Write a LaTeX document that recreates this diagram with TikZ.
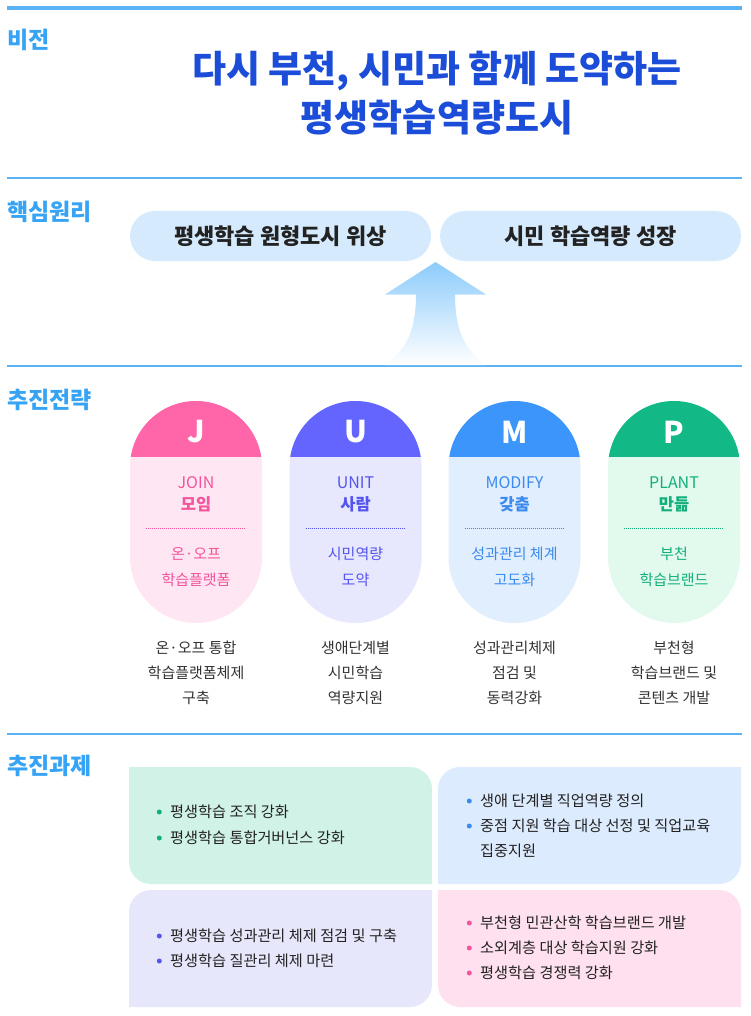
\documentclass[tikz,border=0pt]{standalone}
\usepackage{fontspec}
\setmainfont{Noto Sans CJK KR}
\usepackage{tikz}
\usetikzlibrary{positioning}

\definecolor{lineblue}{HTML}{5AB2F5}
\definecolor{labelblue}{HTML}{36A3F4}
\definecolor{titleblue}{HTML}{1B4DD8}
\definecolor{pillblue}{HTML}{D6EAFD}
\definecolor{arrowblue}{HTML}{8CCBFB}
\definecolor{darktext}{HTML}{222222}
\definecolor{desctext}{HTML}{333333}
\definecolor{jhead}{HTML}{FF66AA}
\definecolor{jbody}{HTML}{FFE6F2}
\definecolor{jtext}{HTML}{F2559C}
\definecolor{uhead}{HTML}{6464FF}
\definecolor{ubody}{HTML}{E7E7FE}
\definecolor{utext}{HTML}{5454EE}
\definecolor{mhead}{HTML}{3B95FB}
\definecolor{mbody}{HTML}{E1EEFE}
\definecolor{mtext}{HTML}{3A8AF0}
\definecolor{phead}{HTML}{12B886}
\definecolor{pbody}{HTML}{E2FAED}
\definecolor{ptext}{HTML}{12AF7C}
\definecolor{qmint}{HTML}{D0F2E7}
\definecolor{qblue}{HTML}{DDEBFE}
\definecolor{qviolet}{HTML}{E7E7FC}
\definecolor{qpink}{HTML}{FFE0EF}

\tikzstyle{topline} = [draw=lineblue, line width=3.5pt]
\tikzstyle{secline} = [draw=lineblue, line width=1.5pt]
\tikzstyle{seclabel} = [anchor=west, inner sep=0pt, text=labelblue, font=\fontsize{23}{23}\selectfont\bfseries]
\tikzstyle{title} = [align=center, inner sep=0pt, text=titleblue, font=\fontsize{37}{49}\selectfont\bfseries]
\tikzstyle{pill} = [rounded corners=25pt, minimum width=301pt, minimum height=50pt, fill=pillblue, text=darktext, font=\fontsize{22}{22}\selectfont\bfseries]
\tikzstyle{letter} = [inner sep=0pt, text=white, font=\fontsize{30}{30}\selectfont\bfseries]
\tikzstyle{eng} = [inner sep=0pt, font=\fontsize{16}{16}\selectfont]
\tikzstyle{kor} = [inner sep=0pt, font=\fontsize{16.5}{16.5}\selectfont\bfseries]
\tikzstyle{sub} = [inner sep=0pt, align=center, font=\fontsize{15}{26}\selectfont]
\tikzstyle{desc} = [inner sep=0pt, align=center, text=desctext, font=\fontsize{15}{25}\selectfont]
\tikzstyle{dots} = [line width=1pt, dash pattern=on 1pt off 1pt]
\tikzstyle{dotmark} = [circle, inner sep=0pt, minimum size=5pt, xshift=-8pt]
\tikzstyle{plainitem} = [anchor=west, inner sep=0pt, text=darktext, font=\fontsize{15.2}{17}\selectfont]
\tikzset{
  capsule/.style={rounded corners=66pt, minimum width=132pt, minimum height=222pt, inner sep=0pt, fill=#1body,
    path picture={\fill[#1head, sharp corners] (path picture bounding box.north west) rectangle ([yshift=-56pt]path picture bounding box.north east);}},
  item/.style={plainitem, label={[dotmark, fill=#1]left:{}}}
}

\begin{document}
\begin{tikzpicture}[x=1pt, y=-1pt]
\useasboundingbox (0,0) rectangle (750,1016);

% section rules and labels
\draw[topline] (7,8) -- (742,8);
\draw[secline] (7,178) -- (742,178);
\draw[secline] (7,366) -- (742,366);
\draw[secline] (7,734) -- (742,734);

\node[seclabel] (vision) at (7,40) {비전};
\node[seclabel] (core) at (7,212) {핵심원리};
\node[seclabel] (strategy) at (7,400) {추진전략};
\node[seclabel] (task) at (7,766) {추진과제};

% vision
\node[title] (slogan) at (437,93) {다시 부천, 시민과 함께 도약하는\\평생학습역량도시};

% core principles
\node[pill] (pill1) at (280.5,236) {평생학습 원형도시 위상};
\node[pill] (pill2) at (590.5,236) {시민 학습역량 성장};
\shade[top color=arrowblue, middle color=arrowblue!75!white, bottom color=white]
  (435.5,262) -- (486,294.5) -- (455,294.5) .. controls (455,335) and (468,352) .. (486,365)
  -- (385,365) .. controls (403,352) and (416,335) .. (416,294.5) -- (385,294.5) -- cycle;

% strategies
\node[capsule=j] (J) at (196,512) {};
\node[capsule=u] (U) at (355.5,512) {};
\node[capsule=m] (M) at (514.5,512) {};
\node[capsule=p] (P) at (674,512) {};

\node[letter] (J_l) at (196,432) {J};
\node[letter] (U_l) at (355.5,432) {U};
\node[letter] (M_l) at (514.5,432) {M};
\node[letter] (P_l) at (674,432) {P};

\node[eng, text=jtext] (J_e) at (196,482.5) {JOIN};
\node[eng, text=utext] (U_e) at (355.5,482.5) {UNIT};
\node[eng, text=mtext] (M_e) at (514.5,482.5) {MODIFY};
\node[eng, text=ptext] (P_e) at (674,482.5) {PLANT};

\node[kor, text=jtext] (J_k) at (196,504) {모임};
\node[kor, text=utext] (U_k) at (355.5,504) {사람};
\node[kor, text=mtext] (M_k) at (514.5,504) {갖춤};
\node[kor, text=ptext] (P_k) at (674,504) {만듦};

\draw[dots, jtext] (146,528) -- (246,528);
\draw[dots, utext] (305.5,528) -- (405.5,528);
\draw[dots, mtext] (464.5,528) -- (564.5,528);
\draw[dots, ptext] (624,528) -- (724,528);

\node[sub, text=jtext] (J_s) at (196,567) {온·오프\\학습플랫폼};
\node[sub, text=utext] (U_s) at (355.5,567) {시민역량\\도약};
\node[sub, text=mtext] (M_s) at (514.5,567) {성과관리 체계\\고도화};
\node[sub, text=ptext] (P_s) at (674,567) {부천\\학습브랜드};

\node[desc] (J_d) at (196,673) {온·오프 통합\\학습플랫폼체제\\구축};
\node[desc] (U_d) at (355.5,673) {생애단계별\\시민학습\\역량지원};
\node[desc] (M_d) at (514.5,673) {성과관리체제\\점검 및\\동력강화};
\node[desc] (P_d) at (674,673) {부천형\\학습브랜드 및\\콘텐츠 개발};

% tasks
\fill[qmint] (129,767) -- (410,767) arc[start angle=270, end angle=360, radius=22] -- (432,884)
  -- (151,884) arc[start angle=90, end angle=180, radius=22] -- cycle;
\fill[qblue] (438,789) arc[start angle=180, end angle=270, radius=22] -- (741,767)
  -- (741,862) arc[start angle=0, end angle=90, radius=22] -- (438,884) -- cycle;
\fill[qviolet] (129,912) arc[start angle=180, end angle=270, radius=22] -- (432,890)
  -- (432,985) arc[start angle=0, end angle=90, radius=22] -- (129,1007) -- cycle;
\fill[qpink] (438,890) -- (719,890) arc[start angle=270, end angle=360, radius=22] -- (741,1007)
  -- (460,1007) arc[start angle=90, end angle=180, radius=22] -- cycle;

\node[item=ptext] (t1) at (170,812) {평생학습 조직 강화};
\node[item=ptext] (t2) at (170,838) {평생학습 통합거버넌스 강화};

\node[item=mtext] (t3) at (480,801) {생애 단계별 직업역량 정의};
\node[item=mtext] (t4) at (480,826) {중점 지원 학습 대상 선정 및 직업교육};
\node[plainitem] (t4b) at (480,851) {집중지원};

\node[item=utext] (t5) at (170,936) {평생학습 성과관리 체제 점검 및 구축};
\node[item=utext] (t6) at (170,961) {평생학습 질관리 체제 마련};

\node[item=jtext] (t7) at (480,923) {부천형 민관산학 학습브랜드 개발};
\node[item=jtext] (t8) at (480,948) {소외계층 대상 학습지원 강화};
\node[item=jtext] (t9) at (480,973) {평생학습 경쟁력 강화};
\end{tikzpicture}
\end{document}
